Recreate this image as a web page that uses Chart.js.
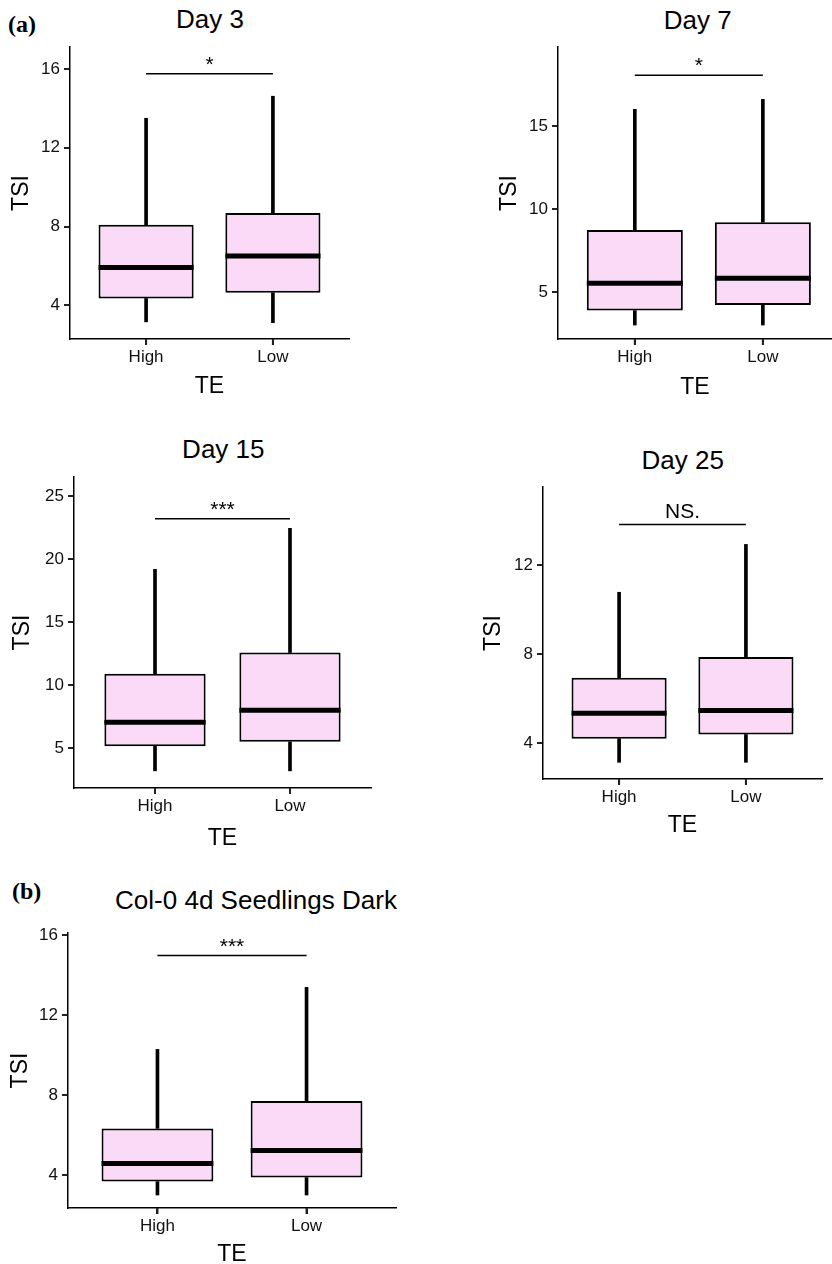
<!DOCTYPE html>
<html>
<head>
<meta charset="utf-8">
<script src="https://cdn.jsdelivr.net/npm/chart.js@4"></script>
<style>
  html, body { margin: 0; padding: 0; background: #fff; }
  body { position: relative; width: 832px; height: 1264px; overflow: hidden; }
  canvas { position: absolute; }
  .title { position: absolute; font: 26px "Liberation Sans", Arial, sans-serif; line-height: 26px;
           color: #000; white-space: nowrap; transform: translateX(-50%); }
  .tag { position: absolute; font: bold 24px "Liberation Serif", "Times New Roman", serif; line-height: 24px; color: #000; }
</style>
</head>
<body>
<div class="tag" style="left:8px; top:12px;">(a)</div>
<div class="tag" style="left:12px; top:879px;">(b)</div>
<script>
'use strict';

// ---- data ----
const groups = ['High', 'Low'];
const panelTitles = ['Day 3', 'Day 7', 'Day 15', 'Day 25', 'Col-0 4d Seedlings Dark'];

// per panel: [High, Low]
const whiskerLow  = [[3.16, 3.12], [3.03, 3.03], [3.21, 3.21], [3.15, 3.15], [3.0, 3.0]];
const q1          = [[4.35, 4.64], [3.90, 4.24], [5.16, 5.51], [4.21, 4.40], [3.67, 3.87]];
const medians     = [[5.92, 6.51], [5.54, 5.84], [7.07, 8.02], [5.35, 5.48], [4.58, 5.23]];
const q3          = [[8.09, 8.69], [8.75, 9.21], [10.9, 12.59], [6.95, 7.88], [6.33, 7.70]];
const whiskerHigh = [[13.5, 14.62], [16.0, 16.6], [19.19, 22.44], [10.79, 12.94], [10.28, 13.38]];

const sigY = [15.76, 18.05, 23.2, 13.84, 14.97];
const sigLabels = ['*', '*', '***', 'NS.', '***'];

const yTicks = [[4, 8, 12, 16], [5, 10, 15], [5, 10, 15, 20, 25], [4, 8, 12], [4, 8, 12, 16]];
const yMin = [2.29, 2.19, 1.85, 2.40, 2.35];
const yMax = [17.12, 19.75, 26.51, 15.52, 16.1];
const xMax = [2.6, 2.54, 2.6, 2.6, 2.6];

// ---- page layout (canvas box + plot area, title centre/baseline) ----
const layout = [
  { left: 8,   top: 27,  w: 351, h: 373, plot: [70, 47, 349, 339],    tx: 210,   tb: 28.3 },
  { left: 496, top: 27,  w: 336, h: 374, plot: [558, 47, 832, 339],   tx: 697.7, tb: 29.3 },
  { left: 9,   top: 457, w: 372, h: 395, plot: [74, 477, 371, 788],   tx: 223.3, tb: 458.3 },
  { left: 480, top: 467, w: 352, h: 372, plot: [543, 487, 822, 779],  tx: 682.7, tb: 469.3 },
  { left: 7,   top: 913, w: 399, h: 355, plot: [68, 933, 396, 1208], tx: 256,   tb: 909.3 }
];

Chart.defaults.font.family = '"Liberation Sans", Arial, Helvetica, sans-serif';
Chart.defaults.color = '#111';

// medians, significance bar and x tick marks, placed through the chart's scales
const boxExtras = {
  id: 'boxExtras',
  afterDatasetsDraw(chart, args, opts) {
    const { ctx, scales: { x, y } } = chart;
    const boxes = chart.getDatasetMeta(0).data;
    ctx.save();
    ctx.strokeStyle = '#000';
    ctx.lineWidth = 5;
    opts.medians.forEach((m, i) => {
      const b = boxes[i];
      const py = y.getPixelForValue(m);
      ctx.beginPath();
      ctx.moveTo(b.x - b.width / 2, py);
      ctx.lineTo(b.x + b.width / 2, py);
      ctx.stroke();
    });
    const sy = y.getPixelForValue(opts.sigY);
    ctx.lineWidth = 1.5;
    ctx.beginPath();
    ctx.moveTo(x.getPixelForValue(1), sy);
    ctx.lineTo(x.getPixelForValue(2), sy);
    ctx.stroke();
    ctx.fillStyle = '#000';
    ctx.font = '21px "Liberation Sans", Arial, sans-serif';
    ctx.textAlign = 'center';
    ctx.textBaseline = 'alphabetic';
    const gap = /[A-Za-z]/.test(opts.label) ? 6 : 3;
    ctx.fillText(opts.label, x.getPixelForValue(1.5), sy - gap);
    ctx.restore();
  },
  afterDraw(chart) {
    // grid ticks are not drawn for this x scale, so mark the groups here
    const { ctx, scales: { x } } = chart;
    ctx.save();
    ctx.strokeStyle = '#222';
    ctx.lineWidth = 2;
    x.ticks.forEach(t => {
      const px = x.getPixelForValue(t.value);
      ctx.beginPath();
      ctx.moveTo(px, x.top);
      ctx.lineTo(px, x.top + 6);
      ctx.stroke();
    });
    ctx.restore();
  }
};

function panel(p) {
  const L = layout[p];
  const [pl, pt, pr, pb] = L.plot;
  const yWidth = pl - L.left;
  const xHeight = L.top + L.h - pb;
  const padTop = pt - L.top;
  const padRight = L.left + L.w - pr;

  const title = document.createElement('div');
  title.className = 'title';
  title.textContent = panelTitles[p];
  title.style.left = L.tx + 'px';
  title.style.top = (L.tb - 22) + 'px';
  document.body.appendChild(title);

  const canvas = document.createElement('canvas');
  canvas.width = L.w;
  canvas.height = L.h;
  canvas.style.left = L.left + 'px';
  canvas.style.top = L.top + 'px';
  document.body.appendChild(canvas);

  const at = (arrA, arrB) => groups.map((g, i) => ({ x: i + 1, y: [arrA[p][i], arrB[p][i]] }));

  new Chart(canvas, {
    type: 'bar',
    data: {
      datasets: [
        { data: at(q1, q3), backgroundColor: '#FADAF7', borderColor: '#000', borderWidth: 2,
          borderSkipped: false, grouped: false, barPercentage: 0.75, categoryPercentage: 1 },
        { data: at(q3, whiskerHigh), backgroundColor: '#000', borderWidth: 0, grouped: false, barThickness: 3 },
        { data: at(whiskerLow, q1), backgroundColor: '#000', borderWidth: 0, grouped: false, barThickness: 3 }
      ]
    },
    options: {
      responsive: false,
      animation: false,
      devicePixelRatio: 1,
      events: [],
      layout: { padding: { left: 0, top: padTop, right: padRight, bottom: 0 } },
      plugins: {
        legend: { display: false },
        tooltip: { enabled: false },
        boxExtras: { medians: medians[p], sigY: sigY[p], label: sigLabels[p] }
      },
      scales: {
        x: {
          type: 'linear', min: 0.4, max: xMax[p], offset: false,
          grid: { display: true, offset: false, drawOnChartArea: false, tickLength: 6, lineWidth: 2, color: '#222' },
          border: { display: true, color: '#000', width: 1.5 },
          ticks: { font: { size: 17 }, color: '#111', padding: 2, callback: (v, i) => groups[i] },
          title: { display: true, text: 'TE', font: { size: 23 }, color: '#000', padding: 0 },
          afterBuildTicks: s => { s.ticks = groups.map((g, i) => ({ value: i + 1 })); },
          afterFit: s => { s.height = xHeight; }
        },
        y: {
          type: 'linear', min: yMin[p], max: yMax[p],
          grid: { display: true, drawOnChartArea: false, tickLength: 6, lineWidth: 2, color: '#222' },
          border: { display: true, color: '#000', width: 1.5 },
          ticks: { font: { size: 17 }, color: '#111', padding: 4, callback: v => String(v) },
          title: { display: true, text: 'TSI', font: { size: 23 }, color: '#000', padding: 0 },
          afterBuildTicks: s => { s.ticks = yTicks[p].map(v => ({ value: v })); },
          afterFit: s => { s.width = yWidth; }
        }
      }
    },
    plugins: [boxExtras]
  });
}

panelTitles.forEach((t, p) => panel(p));
</script>
</body>
</html>
